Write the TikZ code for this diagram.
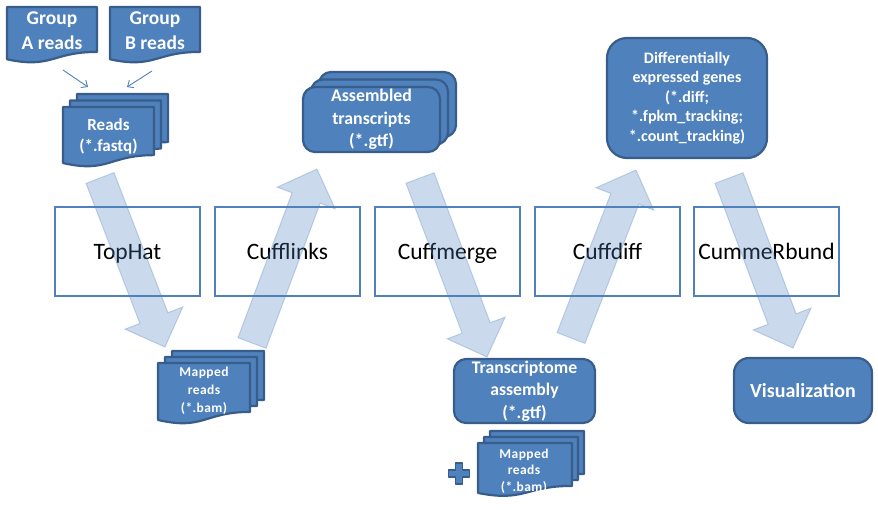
\documentclass[tikz,border=0pt]{standalone}
\usepackage{fontspec}
\setmainfont{Carlito}
\usetikzlibrary{calc,arrows.meta}
\definecolor{bfill}{HTML}{4F81BD}
\definecolor{bline}{HTML}{385D8A}
\definecolor{tline}{HTML}{4F81BD}
\tikzset{
  docsty/.style={draw=bline, fill=bfill, line width=2.2pt, line join=round},
  bluebox/.style={draw=bline, fill=bfill, line width=2.2pt, rounded corners=12pt, inner sep=0pt, text=white, font=\bfseries, align=center},
  toolbox/.style={draw=tline, line width=2.4pt, minimum width=145pt, minimum height=89pt, inner sep=0pt, text height=19pt, text depth=4pt, font=\fontsize{23.5}{28}\selectfont},
  doctext/.style={text=white, font=\bfseries, align=center, inner sep=0pt},
  bigarrow/.style={fill=bfill, fill opacity=0.3, draw=bfill, draw opacity=0.3, line width=1pt, line join=miter},
  thinarrow/.style={draw=tline, line width=0.9pt, -{Straight Barb[length=5pt,width=9pt]}}
}
% document shape: x y w h
\newcommand\docshape[4]{%
  \draw[docsty] ({#1},{#2}) -- ({#1+#3},{#2}) -- ({#1+#3},{#2+0.802*#4})
    .. controls ({#1+0.5*#3},{#2+0.802*#4}) and ({#1+0.5*#3},{#2+1.107*#4}) .. ({#1},{#2+0.934*#4}) -- cycle;}
% multi document: x y w h dx dy (front sheet at x,y)
\newcommand\multidoc[6]{%
  \docshape{#1+2*(#5)}{#2-2*(#6)}{#3}{#4}%
  \docshape{#1+(#5)}{#2-(#6)}{#3}{#4}%
  \docshape{#1}{#2}{#3}{#4}}
% block arrow: prefix, tail, tip
\newcommand\blockarrow[3]{%
  \coordinate (#1h) at ($(#3)!31pt!(#2)$);
  \path[bigarrow] ($(#2)!15pt!90:(#3)$) -- ($(#1h)!15pt!90:(#3)$) -- ($(#1h)!31pt!90:(#3)$)
    -- (#3) -- ($(#1h)!31pt!-90:(#3)$) -- ($(#1h)!15pt!-90:(#3)$) -- ($(#2)!15pt!-90:(#3)$) -- cycle;}
\begin{document}
\begin{tikzpicture}[x=1pt,y=-1pt]
\useasboundingbox (0,0) rectangle (878,509);

% input documents
\docshape{7}{7}{90}{56}
\node[doctext, font=\bfseries\fontsize{19.5}{25}\selectfont] (grpA) at (52,31) {Group\\A reads};
\docshape{110}{7}{90}{56}
\node[doctext, font=\bfseries\fontsize{19.5}{25}\selectfont] (grpB) at (155,31) {Group\\B reads};

\coordinate (a1s) at (63,70);  \coordinate (a1e) at (88,87);
\coordinate (a2s) at (152,71); \coordinate (a2e) at (127,87);
\draw[thinarrow] (a1s) -- (a1e);
\draw[thinarrow] (a2s) -- (a2e);

\multidoc{63}{107}{91}{60}{7}{6.5}
\node[doctext, font=\bfseries\fontsize{17}{21}\selectfont] (reads) at (108.5,136) {Reads\\(*.fastq)};

% tool boxes
\node[toolbox] (tophat) at (127.5,251.5) {TopHat};
\node[toolbox] (cufflinks) at (287.5,251.5) {Cufflinks};
\node[toolbox] (cuffmerge) at (447.5,251.5) {Cuffmerge};
\node[toolbox] (cuffdiff) at (607.5,251.5) {Cuffdiff};
\node[toolbox] (cummerbund) at (766.5,251.5) {CummeRbund};

% mapped reads 1
\multidoc{158}{363}{92}{61}{7}{6}
\node[doctext, font=\bfseries\fontsize{13.5}{18}\selectfont\addfontfeatures{LetterSpace=3}] (map1) at (204,391) {Mapped\\reads\\(*.bam)};

% assembled transcripts
\draw[docsty, rounded corners=12pt] (319,72) rectangle (456,137);
\draw[docsty, rounded corners=12pt] (311,79.5) rectangle (448,144.5);
\node[bluebox, minimum width=137pt, minimum height=65pt, font=\bfseries\fontsize{17.8}{22.5}\selectfont] (asm) at (371.5,119.5) {Assembled\\transcripts\\(*.gtf)};

% transcriptome assembly
\node[bluebox, minimum width=141pt, minimum height=64pt, font=\bfseries\fontsize{17.7}{22.5}\selectfont] (tras) at (524.5,391) {Transcriptome\\assembly\\(*.gtf)};

% plus and mapped reads 2
\draw[docsty, line width=1.8pt] (448.5,470) -- (455.5,470) -- (455.5,463) -- (462.5,463) -- (462.5,470) -- (469.5,470)
  -- (469.5,477) -- (462.5,477) -- (462.5,484) -- (455.5,484) -- (455.5,477) -- (448.5,477) -- cycle;
\multidoc{478}{443}{94}{53.5}{6}{6}
\node[doctext, font=\bfseries\fontsize{13.5}{16.5}\selectfont\addfontfeatures{LetterSpace=3}] (map2) at (524,471) {Mapped\\reads\\(*.bam)};

% differentially expressed genes
\node[bluebox, rounded corners=20pt, minimum width=160pt, minimum height=120pt, font=\bfseries\fontsize{16}{19.5}\selectfont] (diff) at (687,98) {Differentially\\expressed genes\\(*.diff;\\*.fpkm\_tracking;\\*.count\_tracking)};

% visualization
\node[bluebox, rounded corners=15pt, minimum width=138pt, minimum height=65pt, font=\bfseries\fontsize{20}{24}\selectfont] (vis) at (803,390.5) {Visualization};

% big translucent arrows
\coordinate (t1) at (100,178); \coordinate (p1) at (165,347);
\coordinate (t2) at (252,343); \coordinate (p2) at (317,169);
\coordinate (t3) at (420,178); \coordinate (p3) at (487,357);
\coordinate (t4) at (571,338); \coordinate (p4) at (636,170);
\coordinate (t5) at (729,178); \coordinate (p5) at (793,348);
\blockarrow{b1}{t1}{p1}
\blockarrow{b2}{t2}{p2}
\blockarrow{b3}{t3}{p3}
\blockarrow{b4}{t4}{p4}
\blockarrow{b5}{t5}{p5}
\end{tikzpicture}
\end{document}
